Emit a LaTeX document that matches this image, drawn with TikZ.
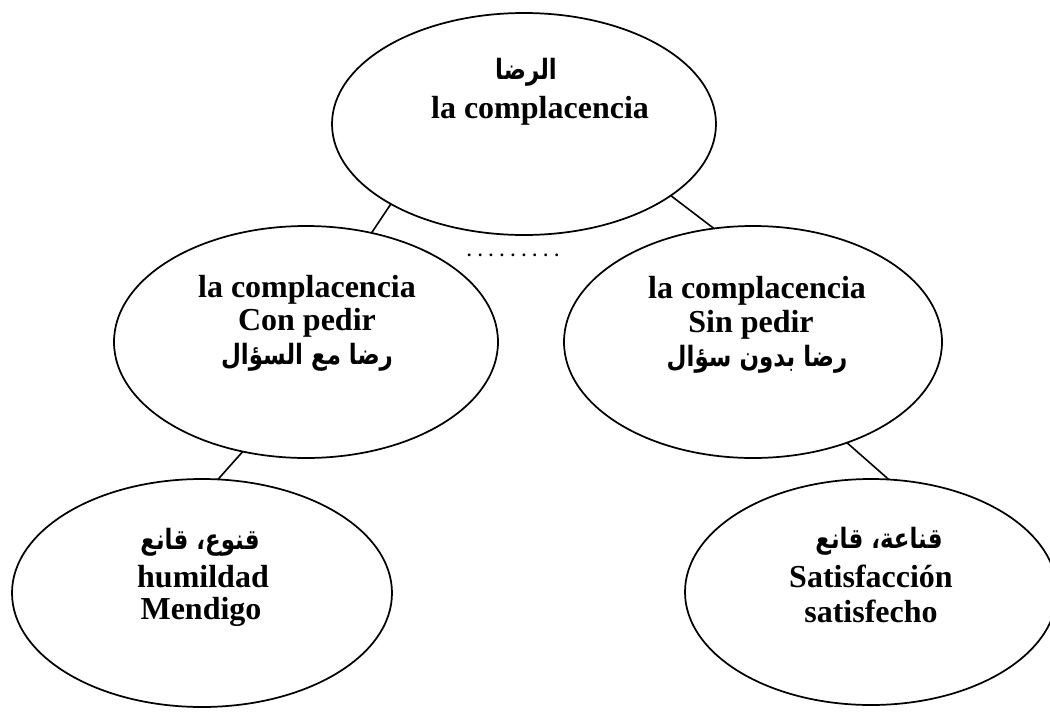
\documentclass[tikz,border=0pt]{standalone}
\usepackage{fontspec}
\setmainfont{Liberation Serif}
\newfontfamily\arabicfont[Script=Arabic]{DejaVu Sans}
\TeXXeTstate=1
\usetikzlibrary{shapes.geometric}
\begin{document}
\begin{tikzpicture}[x=0.75pt,y=-0.75pt,
  bubble/.style={draw,ellipse,line width=1.3pt,inner sep=0pt,outer sep=0pt},
  link/.style={line width=1.2pt},
  lat/.style={anchor=base,inner sep=0pt,font=\fontsize{24}{28}\selectfont\bfseries},
  arb/.style={anchor=base,inner sep=0pt,xscale=0.82,transform shape,font=\arabicfont\fontsize{21}{24}\selectfont\bfseries}]
\useasboundingbox (0,0) rectangle (1050,711);
\begin{scope}
\clip (0,0) rectangle (1050,711);
\node[bubble,minimum width=288pt,minimum height=166.5pt] (top) at (524,124) {};
\node[bubble,minimum width=288pt,minimum height=174pt] (ml) at (306,342) {};
\node[bubble,minimum width=283.5pt,minimum height=174pt] (mr) at (753,342) {};
\node[bubble,minimum width=285pt,minimum height=171pt] (bl) at (202,593) {};
\node[bubble,minimum width=279pt,minimum height=169.5pt] (br) at (871,592) {};
\end{scope}
\draw[link] (top.211.9) -- (ml.59.3);
\draw[link] (top.334.4) -- (mr.109.3);
\draw[link] (ml.240.3) -- (bl.82.6);
\draw[link] (mr.313.2) -- (br.81.4);
% texts
\node[arb] (t1a) at (526,79) {\beginR الرضا\endR};
\node[lat] (t1b) at (540,118) {la complacencia};
\node[lat] (t2a) at (307,297) {la complacencia};
\node[lat] (t2b) at (307,330) {Con pedir};
\node[arb] (t2c) at (307,364) {\beginR رضا مع السؤال\endR};
\node[lat] (t3a) at (757,298) {la complacencia};
\node[lat] (t3b) at (751,332) {Sin pedir};
\node[arb] (t3c) at (757,366) {\beginR رضا بدون سؤال\endR};
\node[arb] (t4a) at (200,549) {\beginR قنوع، قانع\endR};
\node[lat] (t4b) at (203,587) {humildad};
\node[lat] (t4c) at (201,619) {Mendigo};
\node[arb] (t5a) at (879,548) {\beginR قناعة، قانع\endR};
\node[lat] (t5b) at (871,587) {Satisfacción};
\node[lat] (t5c) at (871,622) {satisfecho};
\node[anchor=base,inner sep=0pt,font=\fontsize{13}{15}\selectfont\bfseries] (dots) at (513,256)
  {.\kern4.95pt.\kern4.95pt.\kern4.95pt.\kern4.95pt.\kern4.95pt.\kern4.95pt.\kern4.95pt.\kern4.95pt.};
\end{tikzpicture}
\end{document}
